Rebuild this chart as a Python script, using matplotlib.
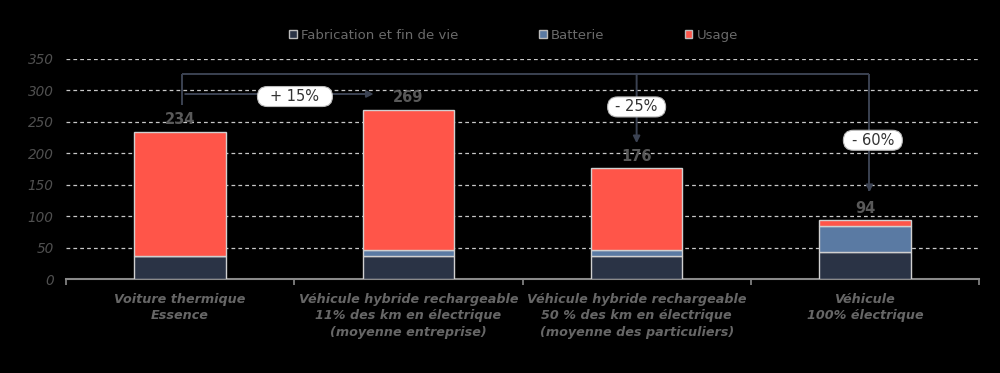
import matplotlib
matplotlib.use("Agg")
import matplotlib.pyplot as plt
import matplotlib.transforms as mtransforms
import numpy as np
from matplotlib.patches import Patch, FancyBboxPatch

categories = [
    "Voiture thermique\nEssence",
    "Véhicule hybride rechargeable\n11% des km en électrique\n(moyenne entreprise)",
    "Véhicule hybride rechargeable\n50 % des km en électrique\n(moyenne des particuliers)",
    "Véhicule\n100% électrique",
]
fabrication = [37, 37, 37, 44]
batterie = [0, 9, 9, 41]
usage = [197, 223, 130, 9]
totals = [234, 269, 176, 94]
series_names = ["Fabrication et fin de vie", "Batterie", "Usage"]
yticks = [0, 50, 100, 150, 200, 250, 300, 350]
change_labels = ["+ 15%", "- 25%", "- 60%"]

c_fab = "#2a3345"
c_bat = "#5a7aa3"
c_use = "#ff5549"
grey = "#666666"
line_c = "#3b4252"

plt.rcParams['font.family'] = ['DejaVu Sans']

fig = plt.figure(figsize=(10, 3.73), dpi=100, facecolor="black")
ax = fig.add_axes([0.066, 0.2512, 0.913, 0.5914], facecolor="black")

x = np.arange(len(categories))
w = 0.4
ek = dict(edgecolor="#d0d0d0", linewidth=1.0)
ax.bar(x, fabrication, w, color=c_fab, **ek, zorder=3)
ax.bar(x, batterie, w, bottom=fabrication, color=c_bat, **ek, zorder=3)
bottom2 = np.array(fabrication) + np.array(batterie)
ax.bar(x, usage, w, bottom=bottom2, color=c_use, **ek, zorder=3)

for xi, t in zip(x, totals):
    ax.text(xi, t + 19, str(t), ha="center", va="center", color="#595959",
            fontsize=10.5, fontweight="bold", zorder=5)

ax.set_xlim(-0.5, 3.5)
ax.set_ylim(0, 350)
ax.set_yticks(yticks)
ax.set_yticklabels([str(v) for v in yticks], fontstyle="italic", color="#505050", fontsize=9.8)
for v in yticks[1:]:
    ax.axhline(v, color="#c8c8c8", linestyle=(0, (3, 2.5)), linewidth=0.9, zorder=1)

ax.set_xticks(x)
ax.set_xticklabels(categories, fontstyle="italic", fontweight="bold", color=grey,
                   fontsize=9.2, linespacing=1.33)
ax.tick_params(axis="x", length=0, pad=10)
ax.set_xticks(np.arange(-0.5, 4.0, 1.0), minor=True)
ax.tick_params(axis="x", which="minor", length=4, color="#8a8a8a", width=1.2)
ax.tick_params(axis="y", length=0, pad=9)
for s in ["top", "right", "left"]:
    ax.spines[s].set_visible(False)
ax.spines["bottom"].set_color("#8a8a8a")
ax.spines["bottom"].set_linewidth(1.5)

# bracket & arrows
lk = dict(color=line_c, linewidth=1.4, zorder=4, solid_capstyle="butt")
ax.plot([0.01, 0.01], [276, 325], **lk)
ax.plot([0.01, 3.02], [325, 325], **lk)
ax.plot([3.02, 3.02], [325, 140], **lk)
ax.annotate("", xy=(3.02, 134), xytext=(3.02, 150),
            arrowprops=dict(arrowstyle="-|>", color=line_c, lw=1.4, mutation_scale=10), zorder=4)
ax.annotate("", xy=(0.86, 294), xytext=(0.01, 294),
            arrowprops=dict(arrowstyle="-|>", color=line_c, lw=1.4, mutation_scale=10), zorder=4)
ax.annotate("", xy=(2.0, 216), xytext=(2.0, 325),
            arrowprops=dict(arrowstyle="-|>", color=line_c, lw=1.4, mutation_scale=10,
                            shrinkA=0, shrinkB=0), zorder=4)

# pill labels (position in data, size in pixels)
pills = [(0.503, 290, 75), (2.0, 273.5, 58), (3.035, 220.6, 59)]
for (bx, by, pw), txt in zip(pills, change_labels):
    ph = 20
    tr = mtransforms.Affine2D() + mtransforms.ScaledTranslation(bx, by, ax.transData)
    p = FancyBboxPatch((-pw / 2, -ph / 2), pw, ph,
                       boxstyle="round,pad=0,rounding_size=10",
                       facecolor="white", edgecolor="#bbbbbb", linewidth=0.8,
                       transform=tr, zorder=6)
    ax.add_patch(p)
    ax.text(bx, by, txt, ha="center", va="center", fontsize=10.5, color="#333333", zorder=7)

handles = [Patch(facecolor=c, edgecolor="#bbbbbb", linewidth=1.0)
           for c in [c_fab, c_bat, c_use]]
leg = ax.legend(handles, series_names, loc="center", bbox_to_anchor=(0.49, 1.107),
                ncol=3, frameon=False, fontsize=9.5, labelcolor="#6a6a6a",
                handlelength=0.6, handleheight=0.6, handletextpad=0.3,
                columnspacing=6.1)

fig.savefig("out.png", dpi=100, facecolor="black")
